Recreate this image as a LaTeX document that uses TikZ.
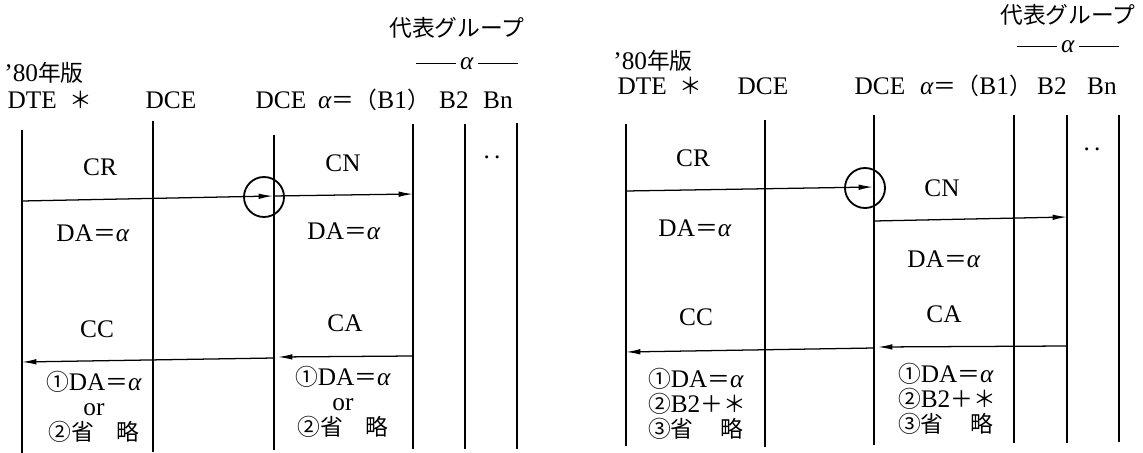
\documentclass[tikz,border=0pt]{standalone}
\usepackage{fontspec}
\setmainfont{Liberation Serif}
\newfontfamily\jp[Scale=0.9]{Noto Sans CJK JP}
\newcommand{\jeq}{{\jp ＝}}
\newcommand{\al}{\textit{α}}
\usepackage{tikz}
\usetikzlibrary{arrows.meta}

\begin{document}
\begin{tikzpicture}[
  x=0.025cm, y=-0.025cm,
  txt/.style={font=\fontsize{18}{17.7}\selectfont, inner sep=0pt, align=center},
  hdr/.style={txt, anchor=base},
  life/.style={line width=1.3pt},
  arr/.style={-{Latex[length=0.36cm,width=0.14cm]}, line width=0.9pt},
  ring/.style={draw, circle, line width=1.3pt, minimum size=1cm, inner sep=0pt}
]
\useasboundingbox (0,0) rectangle (1143,453);

% Links - Kopfzeile
\node[txt] (grpL) at (457,28) {\jp 代表グループ};
\node[txt] (alL) at (467,64) {\rule[0.5ex]{1cm}{0.5pt}\,\al\,\rule[0.5ex]{1cm}{0.5pt}};
\node[txt] (edL) at (44,73) {'80{\jp 年版}};
\node[hdr] (dteL) at (50,108) {DTE\ \ {\jp ＊}};
\node[hdr] (dceL1) at (171,108) {DCE};
\node[hdr] (dceL2) at (281,108) {DCE};
\node[hdr] (bL1) at (374,108) {\al\jeq{\jp （}B1{\jp ）}};
\node[hdr] (bL2) at (454,108) {B2};
\node[hdr] (bLn) at (498,108) {Bn};

% Links - Lebenslinien
\draw[life] (22,130) -- (22,453);
\draw[life] (153,121) -- (153,452);
\draw[life] (274,135) -- (274,450);
\draw[life] (413,124) -- (413,449);
\draw[life] (465,124) -- (465,449);
\draw[life] (517,123) -- (517,449);
\node[txt] (dotL) at (492,157) {.\,.};

% Links - CR / CN
\node[txt] (crL) at (100,167) {CR};
\node[txt] (cnL) at (343,163) {CN};
\node[txt] (daL1) at (93,233) {DA\jeq\al};
\node[txt] (daL2) at (344,231) {DA\jeq\al};
\node[ring] (hubL) at (264,197) {};
\coordinate (crL0) at (22,201);
\coordinate (crL1) at (273,196);
\coordinate (cnL1) at (413,194);
\draw[arr] (crL0) -- (crL1);
\draw[arr] (crL1) -- (cnL1);

% Links - CA / CC
\node[txt] (ccL) at (97,329) {CC};
\node[txt] (caL) at (345,323) {CA};
\coordinate (caL0) at (413,356);
\coordinate (caL1) at (278,357);
\coordinate (ccL0) at (274,358);
\coordinate (ccL1) at (22,362);
\draw[arr] (caL0) -- (caL1);
\draw[arr] (ccL0) -- (ccL1);
\node[txt] (ccLtx) at (94,407) {{\jp ①}DA\jeq\al\\or\\{\jp ②省\hspace{1em}略}};
\node[txt] (caLtx) at (343,402) {{\jp ①}DA\jeq\al\\or\\{\jp ②省\hspace{1em}略}};

% Rechts - Kopfzeile
\node[txt] (grpR) at (1068,15) {\jp 代表グループ};
\node[txt] (alR) at (1068,47) {\rule[0.5ex]{1cm}{0.5pt}\,\al\,\rule[0.5ex]{1cm}{0.5pt}};
\node[txt] (edR) at (653,61) {'80{\jp 年版}};
\node[hdr] (dteR) at (660,95) {DTE\ \ {\jp ＊}};
\node[hdr] (dceR1) at (763,95) {DCE};
\node[hdr] (dceR2) at (880,95) {DCE};
\node[hdr] (bR1) at (976,95) {\al\jeq{\jp （}B1{\jp ）}};
\node[hdr] (bR2) at (1052,95) {B2};
\node[hdr] (bRn) at (1102,95) {Bn};

% Rechts - Lebenslinien
\draw[life] (626,124) -- (626,446);
\draw[life] (765,120) -- (765,447);
\draw[life] (874,115) -- (874,445);
\draw[life] (1014,115) -- (1014,443);
\draw[life] (1067,115) -- (1067,443);
\draw[life] (1119,115) -- (1119,442);
\node[txt] (dotR) at (1092,149) {.\,.};

% Rechts - CR / CN
\node[txt] (crR) at (693,158) {CR};
\node[txt] (daR1) at (695,228) {DA\jeq\al};
\node[txt] (cnR) at (942,188) {CN};
\node[txt] (daR2) at (944,259) {DA\jeq\al};
\node[ring] (hubR) at (865,188) {};
\coordinate (crR0) at (626,191);
\coordinate (crR1) at (873,187);
\coordinate (cnR0) at (874,221);
\coordinate (cnR1) at (1067,217);
\draw[arr] (crR0) -- (crR1);
\draw[arr] (cnR0) -- (cnR1);

% Rechts - CA / CC
\node[txt] (ccR) at (696,317) {CC};
\node[txt] (caR) at (944,314) {CA};
\coordinate (caR0) at (1067,346);
\coordinate (caR1) at (878,347);
\coordinate (ccR0) at (874,348);
\coordinate (ccR1) at (626,352);
\draw[arr] (caR0) -- (caR1);
\draw[arr] (ccR0) -- (ccR1);
\node[txt, align=left] (ccRtx) at (697,404) {{\jp ①}DA\jeq\al\\{\jp ②}B2{\jp ＋＊}\\{\jp ③省\hspace{1.2em}略}};
\node[txt, align=left] (caRtx) at (947,399) {{\jp ①}DA\jeq\al\\{\jp ②}B2{\jp ＋＊}\\{\jp ③省\hspace{1.2em}略}};
\end{tikzpicture}
\end{document}
